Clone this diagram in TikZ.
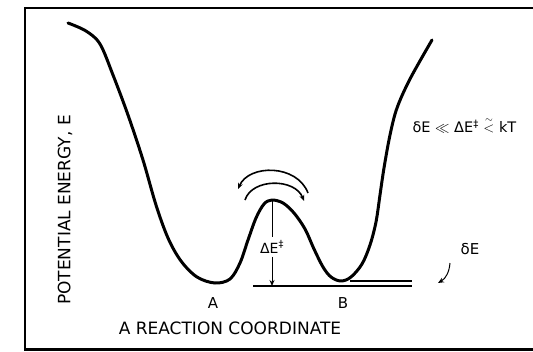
\documentclass[tikz,border=0pt]{standalone}
\usepackage{amsmath, amssymb}
\usepackage{fontspec}
\setmainfont{DejaVu Sans}
\usetikzlibrary{calc, positioning, arrows.meta}

\begin{document}
\begin{tikzpicture}[>={Stealth[length=6pt, width=5pt]}, x=1pt, y=-1pt,
    curve/.style={line width=3pt, line cap=round, line join=round},
    level/.style={line width=1.1pt},
    swap/.style={line width=1.6pt, ->},
    lbl/.style={font=\fontsize{17}{17}\selectfont}]
    \useasboundingbox (0,0) rectangle (533,351);
    % Khung
    \draw[line width=2.2pt] (533,8) -- (25,8) -- (25,349.5) -- (533,349.5);
    % Đường thế năng
    \draw[curve] plot[smooth, tension=0.55] coordinates {
        (68,23) (86,31) (100,44) (113,75) (128,115) (143,160) (156,205)
        (168,238) (181,261) (197,277) (215,283) (230,279) (240,263)
        (248,240) (256,218) (264,204) (272,200) (283,203) (294,213)
        (305,229) (314,249) (323,267) (331,277) (341,281) (351,277)
        (362,264) (370,245) (376,222) (380,195) (384,168) (390,135)
        (397,108) (410,79) (432,40)};
    % Các điểm
    \coordinate (peak) at (272,200);
    \coordinate (baseL) at (253,286);
    \coordinate (baseR) at (412,286);
    \coordinate (zeroL) at (350,281);
    \coordinate (zeroR) at (412,281);
    \coordinate (outR) at (308,193);
    \coordinate (outL) at (238,189);
    \coordinate (inL) at (245,200);
    \coordinate (inR) at (304,201);
    \coordinate (dStart) at (450,263);
    \coordinate (dTip) at (438,283);
    % Mức năng lượng
    \draw[level] (baseL) -- (baseR);
    \draw[level] (zeroL) -- (zeroR);
    % Mũi tên qua lại
    \draw[swap] (outR) .. controls (297,164) and (249,164) .. (outL);
    \draw[swap] (inL) .. controls (252,178) and (295,178) .. (inR);
    % Nhãn
    \node[font=\fontsize{14}{14}\selectfont] (barrier) at (272,247) {ΔE\textsuperscript{‡}};
    \draw[line width=1pt] (peak) -- (barrier.north);
    \draw[line width=1pt, ->] (barrier.south) -- (peak |- baseL);
    \node[lbl, rotate=90] (yaxis) at (65,210) {POTENTIAL ENERGY, E};
    \node[lbl] (xaxis) at (230,328) {A REACTION COORDINATE};
    \node[font=\fontsize{15}{15}\selectfont] (wellA) at (213,303) {A};
    \node[font=\fontsize{15}{15}\selectfont] (wellB) at (343,303) {B};
    \node[font=\fontsize{15}{15}\selectfont] (split) at (470,249) {δE};
    \draw[line width=1pt, ->] (dStart) to[out=-95, in=30] (dTip);
    \node[font=\fontsize{14.5}{14.5}\selectfont, anchor=west] (cond) at (409,125)
        {δE $\ll$ ΔE\textsuperscript{‡} $\stackrel{\sim}{<}$ kT};
\end{tikzpicture}
\end{document}
